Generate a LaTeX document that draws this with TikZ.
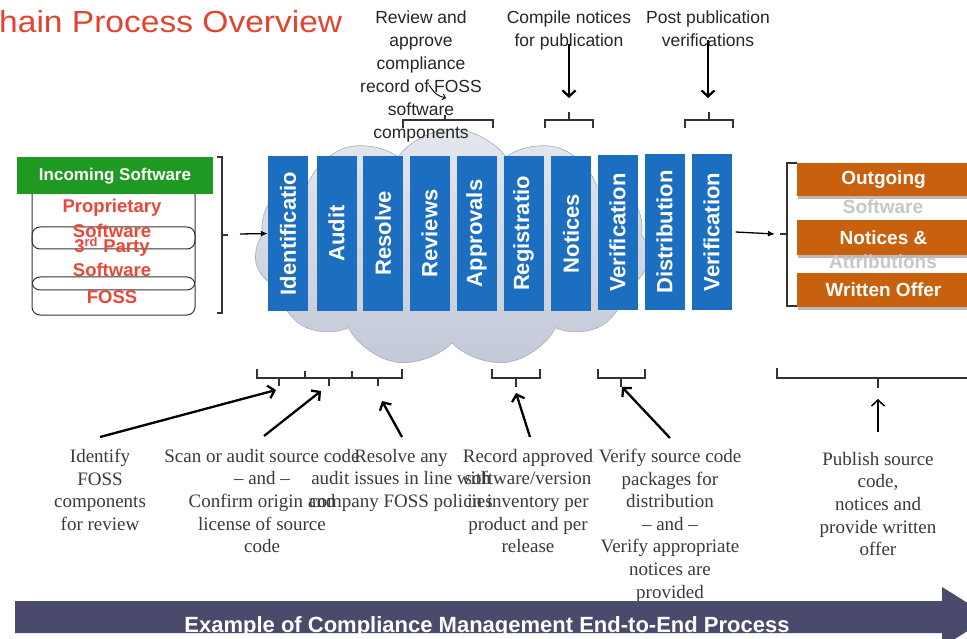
\documentclass[tikz,border=0pt]{standalone}
\usepackage{fontspec}
\usepackage{graphicx}
\setmainfont{Liberation Serif}
\setsansfont{Liberation Sans}
\usetikzlibrary{shapes.symbols,arrows.meta,shadows,calc}
\definecolor{boxblue}{HTML}{1C6EC1}
\definecolor{incgreen}{HTML}{1E9A22}
\definecolor{outorange}{HTML}{C9600E}
\definecolor{redtxt}{HTML}{E8483A}
\definecolor{titlered}{HTML}{E2452F}
\definecolor{barcol}{HTML}{4A4A6C}
\definecolor{linecol}{HTML}{333333}
\definecolor{cloudtop}{HTML}{E4E7EE}
\definecolor{cloudbot}{HTML}{C3C9D8}
\definecolor{bottxt}{HTML}{3A3A3A}
\tikzset{
  bluebox/.style={fill=boxblue, text=white, minimum width=40pt, minimum height=155pt, inner sep=0pt,
    font=\sffamily\bfseries\fontsize{22}{24}\selectfont},
  greenbox/.style={fill=incgreen, text=white, minimum width=196pt, minimum height=37pt, inner sep=0pt,
    font=\sffamily\bfseries\fontsize{17}{19}\selectfont},
  orangebox/.style={fill=outorange, text=white, minimum width=173pt, inner sep=0pt,
    font=\sffamily\bfseries\fontsize{19}{21}\selectfont,
    drop shadow={opacity=0.55, shadow xshift=1pt, shadow yshift=-3pt}},
  ghosttxt/.style={text=black!22, inner sep=0pt, font=\sffamily\bfseries\fontsize{19}{21}\selectfont},
  redlbl/.style={text=redtxt, inner sep=0pt, font=\sffamily\bfseries\fontsize{18.5}{20}\selectfont},
  toplbl/.style={anchor=north, align=center, inner sep=0pt, text=black!85,
    font=\sffamily\fontsize{17.5}{23}\selectfont},
  botlbl/.style={anchor=north, align=center, inner sep=0pt, text=bottxt,
    font=\rmfamily\fontsize{19}{22.6}\selectfont},
  pill/.style={draw=linecol, line width=1pt, rounded corners=8pt},
  brk/.style={draw=linecol, line width=1.4pt},
  barrow/.style={draw=black, line width=2.3pt, -{Straight Barb[length=6pt,width=13pt]}},
  sarrow/.style={draw=black, line width=1.3pt, -{Latex[length=7pt,width=6pt]}},
}
\begin{document}
\begin{tikzpicture}[x=1pt,y=-1pt]
\useasboundingbox (0,0) rectangle (967,639);
\clip (0,0) rectangle (967,639);
\fill[white] (0,0) rectangle (967,639);

% title
\node[anchor=base west, inner sep=0pt, text=titlered, font=\sffamily\fontsize{30.5}{34}\selectfont] (title) at (-1,33) {\scalebox{1.1}[1]{hain Process Overview}};

% cloud
\node[cloud, cloud puffs=11, cloud puff arc=110, aspect=1.7, minimum width=395pt, minimum height=238pt,
      top color=cloudtop, bottom color=cloudbot, draw=cloudbot!85!black, line width=0.6pt] (cloud) at (452,248) {};

% top labels
\node[toplbl] (t1) at (421,11) {Review and\\approve\\compliance\\record of FOSS\\software\\components};
\node[toplbl] (t2) at (569,11) {Compile notices\\for publication};
\node[toplbl] (t3) at (708,11) {Post publication\\verifications};

% top brackets
\draw[brk] (403,128) -- (403,120) -- (493,120) -- (493,128);
\draw[brk] (445,120) -- (445,115);
\draw[brk] (545,128) -- (545,120) -- (593,120) -- (593,128);
\draw[brk] (569,120) -- (569,112);
\draw[brk] (685,128) -- (685,120) -- (733,120) -- (733,128);
\draw[brk] (709,120) -- (709,112);
\coordinate (ta2) at (569,98);
\coordinate (ta3) at (708,98);
\draw[barrow] (t2.south) ++(0,-7) -- (ta2);
\draw[barrow] (t3.south) ++(0,-7) -- (ta3);
\coordinate (ca) at (429,85);
\coordinate (cb) at (446,98);
\draw[black, line width=0.9pt, -{Straight Barb[length=3pt,width=6pt]}] (ca) .. controls (436,95) .. (cb);

% blue process boxes
\node[bluebox] (b1) at (288,233.5) {\rotatebox{90}{Identificatio}};
\node[bluebox] (b2) at (336.5,233.5) {\rotatebox{90}{Audit}};
\node[bluebox] (b3) at (383,233.5) {\rotatebox{90}{Resolve}};
\node[bluebox] (b4) at (429.5,233.5) {\rotatebox{90}{Reviews}};
\node[bluebox] (b5) at (476.5,233.5) {\rotatebox{90}{Approvals}};
\node[bluebox] (b6) at (523.5,233.5) {\rotatebox{90}{Registratio}};
\node[bluebox] (b7) at (571,233.5) {\rotatebox{90}{Notices}};
\node[bluebox] (b8) at (617.5,232.5) {\rotatebox{90}{Verification}};
\node[bluebox] (b9) at (664.5,232) {\rotatebox{90}{Distribution}};
\node[bluebox] (b10) at (711.5,232) {\rotatebox{90}{Verification}};

% incoming software block
\draw[pill] (32,187) rectangle (195,249);
\draw[pill] (32,227) rectangle (195,290);
\draw[pill] (32,277) rectangle (195,315);
\node[greenbox] (inc) at (115,176) {Incoming Software};
\node[redlbl] (p1) at (112,208) {Proprietary};
\node[redlbl] (p2) at (112,231) {Software};
\node[redlbl] (p3) at (112,247) {3\textsuperscript{rd} Party};
\node[redlbl] (p4) at (112,270) {Software};
\node[redlbl] (p5) at (112,297) {FOSS};

% left bracket and arrow
\draw[brk, line width=1.1pt] (217,157) -- (222,157) -- (222,313) -- (217,313);
\draw[brk, line width=1.1pt] (222,235) -- (228,235);
\coordinate (lbt) at (240,234);
\draw[sarrow] (lbt) -- (b1.west);

% right bracket and arrow
\coordinate (rbt) at (775,234);
\draw[sarrow] (b10.east) ++(4,0) -- (rbt);
\draw[brk, line width=1.1pt] (797,163) -- (787,163) -- (787,306) -- (797,306);
\draw[brk, line width=1.1pt] (780,234) -- (787,234);

% outgoing blocks
\node[orangebox, minimum height=33pt] (o1) at (883.5,179.5) {Outgoing};
\node[orangebox, minimum height=35pt] (o2) at (883.5,237.5) {Notices \&};
\node[orangebox, minimum height=34pt] (o3) at (883.5,290) {Written Offer};
\node[ghosttxt] (o1s) at (883,207) {Software};
\node[ghosttxt] (o2s) at (883,262) {Attributions};

% bottom brackets
\draw[brk] (257,369) -- (257,378) -- (402,378) -- (402,369);
\draw[brk] (305,378) -- (305,371);
\draw[brk] (352,378) -- (352,371);
\draw[brk] (279,378) -- (279,386);
\draw[brk] (329,378) -- (329,386);
\draw[brk] (378,378) -- (378,386);
\draw[brk] (492,369) -- (492,378) -- (540,378) -- (540,369);
\draw[brk] (516,378) -- (516,387);
\draw[brk] (598,369) -- (598,378) -- (645,378) -- (645,369);
\draw[brk] (621,378) -- (621,387);
\draw[brk] (777,368) -- (777,378) -- (975,378);
\draw[brk] (878,378) -- (878,388);

% bottom labels
\node[botlbl] (l1) at (100,449) {Identify\\FOSS\\components\\for review};
\node[botlbl] (l2) at (262,449) {Scan or audit source code\\– and –\\Confirm origin and\\license of source\\code};
\node[botlbl] (l3) at (401,449) {Resolve any\\audit issues in line with\\company FOSS policies};
\node[botlbl] (l4) at (528,449) {Record approved\\software/version\\in inventory per\\product and per\\release};
\node[botlbl] (l5) at (670,449) {Verify source code\\packages for\\distribution\\– and –\\Verify appropriate\\notices are\\provided};
\node[botlbl] (l6) at (878,452) {Publish source\\code,\\notices and\\provide written\\offer};

% bottom arrows
\coordinate (e1) at (276,390);
\coordinate (e2) at (321,391);
\coordinate (e3) at (382,401);
\coordinate (e4) at (516,393);
\coordinate (e5) at (622,387);
\coordinate (e6) at (878,399);
\draw[barrow] (l1.north) ++(0,-12) -- (e1);
\draw[barrow] (l2.north) ++(2,-13) -- (e2);
\draw[barrow] (l3.north) ++(1,-12) -- (e3);
\draw[barrow] (l4.north) ++(2,-12) -- (e4);
\draw[barrow] (l5.north) ++(0,-11) -- (e5);
\draw[barrow, line width=1.5pt] (l6.north) ++(0,-20) -- (e6);

% process arrow band
\path[fill=barcol] (15,601) -- (942,601) -- (942,587) -- (990,617) -- (942,647) -- (942,633) -- (15,633) -- cycle;
\begin{scope}
  \clip (15,601) rectangle (942,633);
  \node[anchor=base, inner sep=0pt, text=white, font=\sffamily\bfseries\fontsize{22}{24}\selectfont] (band) at (487,632) {Example of Compliance Management End-to-End Process};
\end{scope}
\end{tikzpicture}
\end{document}
